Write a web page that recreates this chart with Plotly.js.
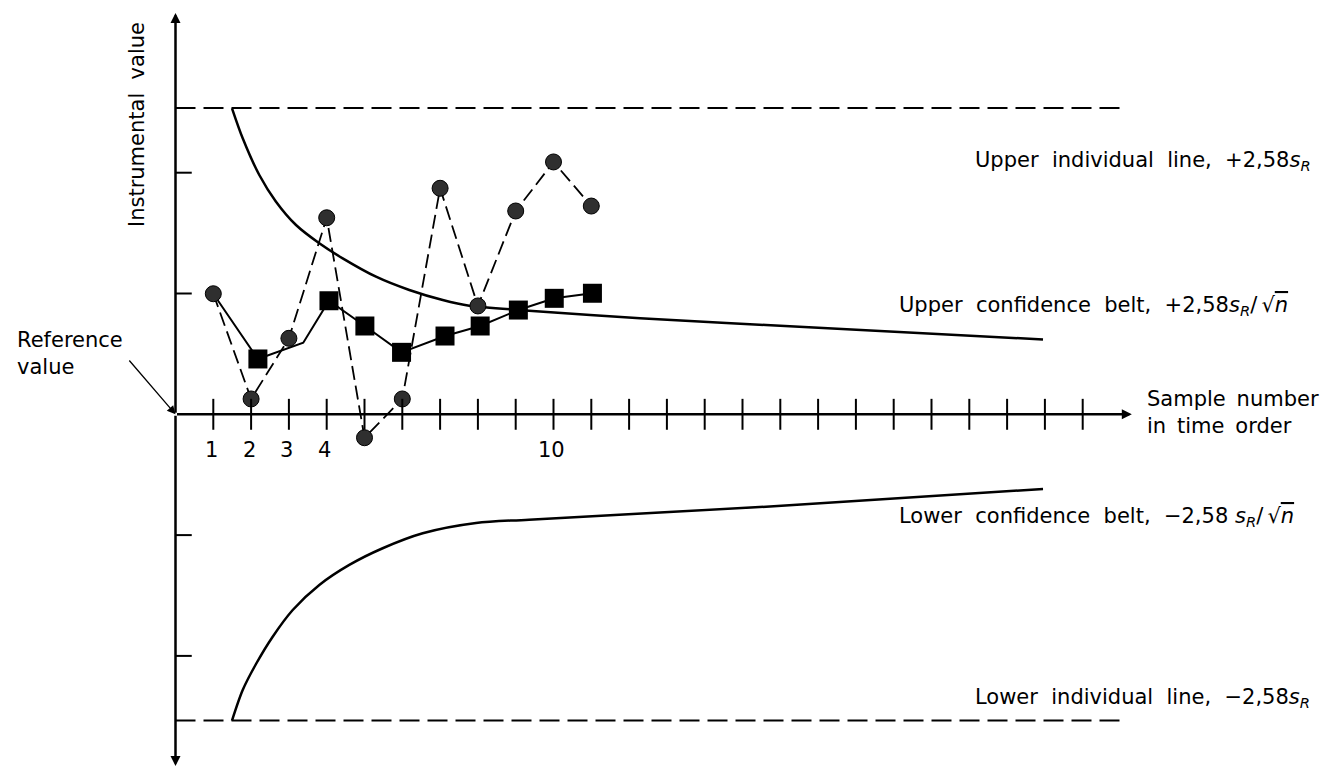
<!DOCTYPE html>
<html>
<head>
<meta charset="utf-8">
<script src="https://cdn.plot.ly/plotly-3.0.1.min.js"></script>
<style>html,body{margin:0;padding:0;background:#fff;}#chart{width:1320px;height:769px;}</style>
</head>
<body>
<div id="chart"></div>
<script>
// ---- data ----
const sampleNo = [1, 2, 3, 4, 5, 6, 7, 8, 9, 10, 11];
const instrumentalValue = [0.998, 0.127, 0.629, 1.627, -0.194, 0.127, 1.871, 0.897, 1.683, 2.089, 1.724];

const meanX = [1, 2.18, 3.38, 4.06, 5.01, 5.98, 7.13, 8.06, 9.07, 10.02, 11.03];
const meanValue = [0.998, 0.458, 0.593, 0.940, 0.731, 0.513, 0.648, 0.731, 0.863, 0.960, 1.002];
const meanMarked = [false, true, false, true, true, true, true, true, true, true, true];

const upperBeltX = [1.495, 1.778, 2.217, 2.659, 3.188, 3.804, 4.423, 5.304, 6.185, 7.069, 7.772, 9.352, 12.288, 15.622, 22.95];
const upperBelt  = [2.533, 2.285, 1.981, 1.760, 1.567, 1.416, 1.291, 1.139, 1.029, 0.946, 0.899, 0.858, 0.795, 0.739, 0.619];
const lowerBeltX = [1.495, 1.778, 2.130, 2.571, 3.101, 3.804, 4.598, 5.481, 6.540, 7.950, 9.352, 15.622, 22.95];
const lowerBelt  = [-2.535, -2.282, -2.067, -1.841, -1.620, -1.413, -1.247, -1.109, -0.985, -0.900, -0.872, -0.765, -0.618];

const limitX = [0, 25.04];
const upperIndividual = 2.535;
const lowerIndividual = -2.535;

const xTickVals = [1, 2, 3, 4, 5, 6, 7, 8, 9, 10, 11, 12, 13, 14, 15, 16, 17, 18, 19, 20, 21, 22, 23, 24];
const xLabelVals = [1, 2, 3, 4, 10];
const xLabelText = ['1', '2', '3', '4', '10'];
const yTickVals = [2, 1, -1, -2];

const xAxisEnd = 25.3;
const yAxisTop = 3.322;
const yAxisBottom = -2.911;

// ---- layout helpers ----
const W = 1320, H = 769;
const px = v => v / W;
const py = v => 1 - v / H;
const FONT = 'DejaVu Sans';
const sp = ' \u00a0';
const sR = '<i>s</i><sub><i>R</i></sub>';
const rootN = '/\u2009\u221a<span style="text-decoration:overline"><i>n</i></span>';

const traces = [
  {x: limitX, y: limitX.map(() => upperIndividual), mode: 'lines',
   line: {color: '#000', width: 2, dash: '20px,8px'}, hoverinfo: 'skip'},
  {x: limitX, y: limitX.map(() => lowerIndividual), mode: 'lines',
   line: {color: '#000', width: 2, dash: '20px,8px'}, hoverinfo: 'skip'},
  {x: upperBeltX, y: upperBelt, mode: 'lines',
   line: {color: '#000', width: 2.5, shape: 'spline', smoothing: 0.85}},
  {x: lowerBeltX, y: lowerBelt, mode: 'lines',
   line: {color: '#000', width: 2.5, shape: 'spline', smoothing: 0.85}},
  {x: meanX, y: meanValue, mode: 'lines+markers',
   line: {color: '#000', width: 2},
   marker: {symbol: 'square', color: '#000', opacity: 1, size: meanMarked.map(m => m ? 19 : 0), line: {width: 0}}},
  {x: sampleNo, y: instrumentalValue, mode: 'lines+markers',
   line: {color: '#000', width: 1.8, dash: '14px,6px'},
   marker: {symbol: 'circle', color: '#2f2f2f', opacity: 1, size: 16, line: {color: '#000', width: 1}}}
];

const shapes = [];
xTickVals.forEach(v => shapes.push({type: 'line', xref: 'x', yref: 'y', x0: v, x1: v, y0: -0.128, y1: 0.128,
  line: {color: '#000', width: 2}}));
yTickVals.forEach(v => shapes.push({type: 'line', xref: 'x', yref: 'y', x0: 0, x1: 0.43, y0: v, y1: v,
  line: {color: '#000', width: 2}}));

const arrow = (x, y) => ({x: x, y: y, ax: 0, ay: 0, xref: 'x', yref: 'y', axref: 'x', ayref: 'y',
  text: '', showarrow: true, arrowhead: 2, arrowsize: 0.8, arrowwidth: 2.5, arrowcolor: '#000', standoff: 0});

const txt = (text, x, y, extra) => Object.assign({text: text, x: px(x), y: py(y), xref: 'paper', yref: 'paper',
  xanchor: 'left', yanchor: 'middle', showarrow: false, align: 'left',
  font: {family: FONT, size: 21, color: '#000'}}, extra || {});

const annotations = [
  arrow(xAxisEnd, 0), arrow(0, yAxisTop), arrow(0, yAxisBottom),
  {x: 0, y: 0, xref: 'x', yref: 'y', ax: -47.5, ay: -55.3, text: '', showarrow: true,
   arrowhead: 2, arrowsize: 1.3, arrowwidth: 1.3, arrowcolor: '#000', standoff: 0},
  txt('Upper' + sp + 'individual' + sp + 'line,' + sp + '+2,58' + sR, 973, 161),
  txt('Upper' + sp + 'confidence' + sp + 'belt,' + sp + '+2,58' + sR + rootN, 897, 306),
  txt('Lower' + sp + 'confidence' + sp + 'belt,' + sp + '\u22122,58 ' + sR + rootN, 897, 517),
  txt('Lower' + sp + 'individual' + sp + 'line,' + sp + '\u22122,58' + sR, 973, 698),
  txt('Sample \u2009number<br>in \u2009time \u2009order', 1145, 412),
  txt('Reference<br>value', 15, 353),
  txt('Instrumental' + sp + 'value', 137, 125, {xanchor: 'center', textangle: -90})
];
xLabelVals.forEach((v, i) => annotations.push({text: xLabelText[i], x: v, y: 0, xref: 'x', yref: 'y',
  yshift: -36, xshift: -2, showarrow: false, xanchor: 'center', yanchor: 'middle',
  font: {family: FONT, size: 21, color: '#000'}}));

const layout = {
  width: W, height: H,
  margin: {l: 0, r: 0, t: 0, b: 0, pad: 0},
  paper_bgcolor: '#fff', plot_bgcolor: '#fff',
  showlegend: false,
  xaxis: {range: [-175.5 / 37.8, (W - 175.5) / 37.8], visible: false, fixedrange: true},
  yaxis: {range: [(414.3 - H) / 120.8, 414.3 / 120.8], visible: false, fixedrange: true},
  shapes: shapes,
  annotations: annotations,
  font: {family: FONT, color: '#000'}
};

Plotly.newPlot('chart', traces, layout, {staticPlot: true, displayModeBar: false});
</script>
</body>
</html>
